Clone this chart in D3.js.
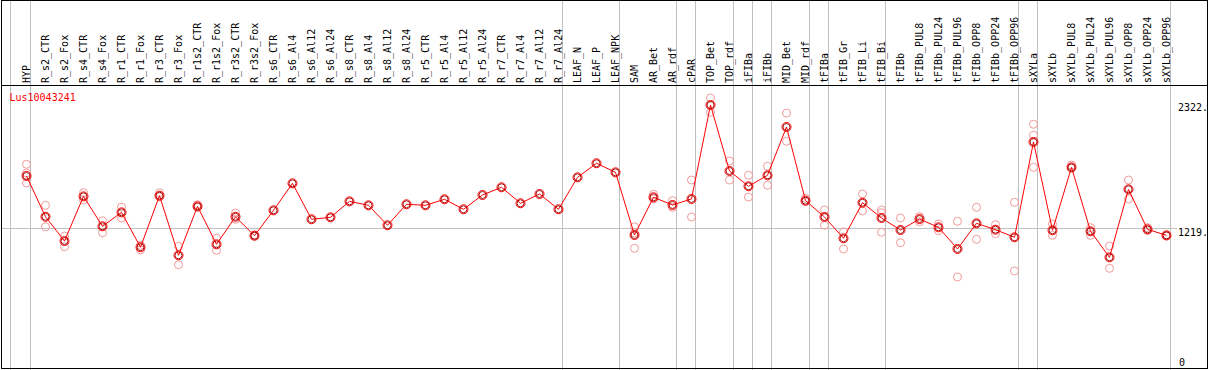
<!DOCTYPE html>
<html>
<head>
<meta charset="utf-8">
<script src="https://cdn.jsdelivr.net/npm/d3@7"></script>
<style>
  body { margin: 0; background: #fff; }
  svg { display: block; }
  text { font-family: "DejaVu Sans Mono", monospace; font-size: 10px; }
</style>
</head>
<body>
<div class="chart"></div>
<script>
var gene = "Lus10043241";

var samples = ["HYP", "R_s2_CTR", "R_s2_Fox", "R_s4_CTR", "R_s4_Fox", "R_r1_CTR", "R_r1_Fox",
    "R_r3_CTR", "R_r3_Fox", "R_r1s2_CTR", "R_r1s2_Fox", "R_r3s2_CTR", "R_r3s2_Fox",
    "R_s6_CTR", "R_s6_Al4", "R_s6_Al12", "R_s6_Al24", "R_s8_CTR", "R_s8_Al4", "R_s8_Al12", "R_s8_Al24",
    "R_r5_CTR", "R_r5_Al4", "R_r5_Al12", "R_r5_Al24", "R_r7_CTR", "R_r7_Al4", "R_r7_Al12", "R_r7_Al24",
    "LEAF_N", "LEAF_P", "LEAF_NPK", "SAM", "AR_Bet", "AR_rdf", "cPAR", "TOP_Bet", "TOP_rdf",
    "iFIBa", "iFIBb", "MID_Bet", "MID_rdf", "tFIBa", "tFIB_Gr", "tFIB_Li", "tFIB_Bi", "tFIBb",
    "tFIBb_PUL8", "tFIBb_PUL24", "tFIBb_PUL96", "tFIBb_OPP8", "tFIBb_OPP24", "tFIBb_OPP96",
    "sXYLa", "sXYLb", "sXYLb_PUL8", "sXYLb_PUL24", "sXYLb_PUL96", "sXYLb_OPP8", "sXYLb_OPP24", "sXYLb_OPP96"];

// group sizes, a grey separator is drawn after each group
var groups = [1, 28, 3, 3, 1, 2, 1, 1, 2, 1, 3, 7, 1, 7];

var means = [1681, 1321, 1107, 1501, 1237, 1360, 1052, 1507, 981, 1413, 1078, 1321, 1154,
    1378, 1616, 1299, 1316, 1457, 1422, 1246, 1431, 1422, 1475, 1387, 1513, 1581, 1440, 1522, 1387,
    1669, 1793, 1713, 1160, 1493, 1425, 1478, 2307, 1725, 1590, 1687, 2113, 1463, 1319, 1131, 1445, 1310,
    1204, 1301, 1228, 1037, 1263, 1207, 1140, 1981, 1202, 1757, 1193, 963, 1563, 1210, 1157];

var replicates = [
    [1784, 1707, 1619], [1422, 1233], [1151, 1057], [1533, 1469], [1286, 1180], [1407, 1310],
    [1069, 1028], [1533, 1498], [1060, 898], [1427, 1404], [1131, 1025], [1354, 1299], [1160, 1150],
    [], [], [], [], [], [], [], [], [], [], [], [], [], [], [], [], [], [], [],
    [1233, 1180, 1043], [1519, 1478], [1463, 1404], [1645, 1319], [2369, 2243], [1813, 1645],
    [1687, 1495], [1766, 1599], [2236, 1987], [1484, 1455], [1381, 1246], [1187, 1037],
    [1522, 1372], [1381, 1357, 1184], [1310, 1092], [1322, 1277], [1257, 1198], [1281, 790],
    [1404, 1122], [1251, 1172], [1449, 843], [2137, 2040, 1757], [1257, 1157], [1778, 1750],
    [1225, 1157], [1063, 866], [1645, 1478], [1225, 1200], [1160, 1150]];

var yTicks = [2322, 1219];

var width = 1209, height = 370;

var svg = d3.select(".chart")
    .append("svg")
    .attr("width", width)
    .attr("height", height);

var x = d3.scaleBand()
    .domain(samples)
    .range([11.5, 11.5 + 19 * samples.length]);

var y = d3.scaleLinear()
    .domain([0, 2322])
    .range([366.5, 103.3]);

function px(d) { return x(d) + 15; }

// grey separators
var bounds = [0];
groups.forEach(function(g) { bounds.push(bounds[bounds.length - 1] + g); });

svg.selectAll("line.sep")
    .data(bounds)
    .enter()
    .append("line")
    .attr("class", "sep")
    .attr("x1", function(d) { return d < samples.length ? x(samples[d]) - (d === 0 ? 1 : 0) : x.range()[1]; })
    .attr("x2", function(d) { return d < samples.length ? x(samples[d]) - (d === 0 ? 1 : 0) : x.range()[1]; })
    .attr("y1", 0)
    .attr("y2", height)
    .style("stroke", "#c0c0c0");

svg.append("line")
    .attr("x1", 1).attr("x2", 1177)
    .attr("y1", Math.round(y(1219)) + 0.5).attr("y2", Math.round(y(1219)) + 0.5)
    .style("stroke", "#c0c0c0");

// frame
svg.append("rect")
    .attr("x", 1.5).attr("y", 0.5)
    .attr("width", 1206).attr("height", 368)
    .style("fill", "none")
    .style("stroke", "black");
svg.append("line")
    .attr("x1", 1).attr("x2", 1208)
    .attr("y1", 85.5).attr("y2", 85.5)
    .style("stroke", "black");

// sample labels
svg.selectAll("text.lab")
    .data(samples)
    .enter()
    .append("text")
    .attr("class", "lab")
    .attr("transform", function(d) { return "translate(" + (px(d) + 3.5) + ",83) rotate(-90)"; })
    .text(function(d) { return d; });

svg.append("text")
    .attr("x", 9.5).attr("y", 101)
    .attr("fill", "red")
    .text(gene);

// right axis values
svg.selectAll("text.tick")
    .data(yTicks)
    .enter()
    .append("text")
    .attr("class", "tick")
    .attr("x", 1178)
    .attr("y", function(d) { return Math.round(y(d)) + 8; })
    .text(function(d) { return d + "."; });
svg.append("text")
    .attr("x", 1179).attr("y", 366)
    .text("0");

// replicates
var reps = [];
replicates.forEach(function(r, i) {
    r.forEach(function(v) { reps.push({s: samples[i], v: v}); });
});
svg.selectAll("circle.rep")
    .data(reps)
    .enter()
    .append("circle")
    .attr("class", "rep")
    .attr("cx", function(d) { return px(d.s); })
    .attr("cy", function(d) { return y(d.v); })
    .attr("r", 4)
    .style("fill", "none")
    .style("stroke", "#f09a9a");

// mean line
var line = d3.line()
    .x(function(d, i) { return px(samples[i]); })
    .y(function(d) { return y(d); });

svg.append("path")
    .datum(means)
    .attr("d", line)
    .style("fill", "none")
    .style("stroke", "red");

svg.selectAll("circle.mean")
    .data(means)
    .enter()
    .append("circle")
    .attr("class", "mean")
    .attr("cx", function(d, i) { return px(samples[i]); })
    .attr("cy", function(d) { return y(d); })
    .attr("r", 4.5)
    .style("fill", "none")
    .style("stroke", "red");

svg.selectAll("circle.meanin")
    .data(means)
    .enter()
    .append("circle")
    .attr("class", "meanin")
    .attr("cx", function(d, i) { return px(samples[i]); })
    .attr("cy", function(d) { return y(d); })
    .attr("r", 3.5)
    .style("fill", "none")
    .style("stroke", "#900")
    .style("stroke-width", 0.9);
</script>
</body>
</html>
